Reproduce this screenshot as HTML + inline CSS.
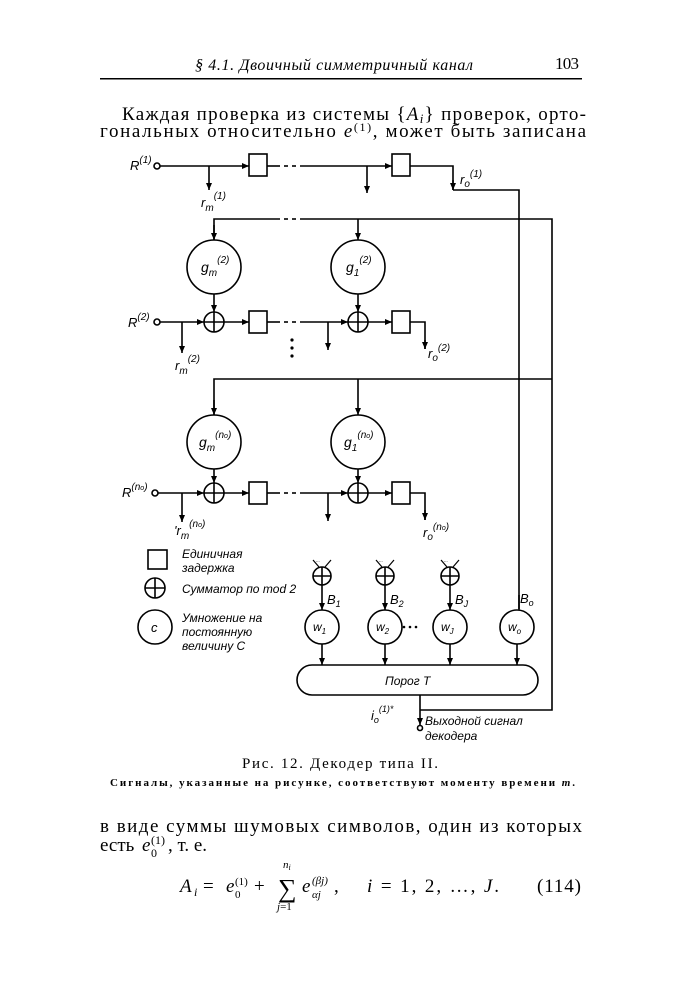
<!DOCTYPE html>
<html><head><meta charset="utf-8"><style>
html,body{margin:0;padding:0;background:#fff}
svg{display:block}
.s{font-family:"Liberation Serif",serif}
.i{font-family:"Liberation Sans",sans-serif;font-style:italic}
</style></head><body>
<svg width="683" height="1000" viewBox="0 0 683 1000" xmlns="http://www.w3.org/2000/svg">
<defs><marker id="a" markerWidth="8" markerHeight="8" refX="7" refY="4" orient="auto" markerUnits="userSpaceOnUse"><path d="M0,1 L7,4 L0,7 z" fill="#000"/></marker></defs>
<g fill="#000">
<text x="195" y="70" class="s" font-size="16" font-style="italic" textLength="278">§ 4.1. Двоичный симметричный канал</text>
<text x="555" y="69" class="s" font-size="17" textLength="24">103</text>
<rect x="100" y="78" width="482" height="1.5"/>
<text x="122" y="120" class="s" font-size="19" textLength="464">Каждая проверка из системы {<tspan font-style="italic">A<tspan font-size="13" dy="3">i</tspan></tspan><tspan dy="-3">} проверок, орто-</tspan></text>
<text x="100" y="137" class="s" font-size="19" textLength="486">гональных относительно <tspan font-style="italic">e</tspan><tspan font-size="12" dy="-6">(1)</tspan><tspan dy="6">, может быть записана</tspan></text>
</g>
<g stroke="#000" stroke-width="1.6" fill="none">
<circle cx="157" cy="166" r="3"/>
<line x1="160" y1="166" x2="249" y2="166" marker-end="url(#a)"/>
<rect x="249" y="154" width="18" height="22"/>
<line x1="267" y1="166" x2="280" y2="166"/>
<line x1="284" y1="166" x2="288" y2="166"/><line x1="292" y1="166" x2="296" y2="166"/>
<line x1="300" y1="166" x2="392" y2="166" marker-end="url(#a)"/>
<rect x="392" y="154" width="18" height="22"/>
<polyline points="410,166 453,166 453,190"/>
<line x1="453" y1="180" x2="453" y2="190" marker-end="url(#a)"/>
<polyline points="453,190 519,190 519,609"/>
<line x1="209" y1="166" x2="209" y2="190" marker-end="url(#a)"/>
<line x1="367" y1="166" x2="367" y2="193" marker-end="url(#a)"/>
<polyline points="214,240 214,219 280,219"/>
<line x1="284" y1="219" x2="288" y2="219"/><line x1="292" y1="219" x2="296" y2="219"/>
<polyline points="300,219 552,219 552,710 420,710"/>
<line x1="214" y1="225" x2="214" y2="240" marker-end="url(#a)"/>
<line x1="358" y1="219" x2="358" y2="240" marker-end="url(#a)"/>
<circle cx="214" cy="267" r="27"/><circle cx="358" cy="267" r="27"/>
<line x1="214" y1="294" x2="214" y2="312" marker-end="url(#a)"/>
<line x1="358" y1="294" x2="358" y2="312" marker-end="url(#a)"/>
<circle cx="157" cy="322" r="3"/>
<line x1="160" y1="322" x2="204" y2="322" marker-end="url(#a)"/>
<circle cx="214" cy="322" r="10"/><line x1="204" y1="322" x2="224" y2="322"/><line x1="214" y1="312" x2="214" y2="332"/>
<line x1="224" y1="322" x2="249" y2="322" marker-end="url(#a)"/>
<rect x="249" y="311" width="18" height="22"/>
<line x1="267" y1="322" x2="280" y2="322"/>
<line x1="284" y1="322" x2="288" y2="322"/><line x1="292" y1="322" x2="296" y2="322"/>
<line x1="300" y1="322" x2="348" y2="322" marker-end="url(#a)"/>
<circle cx="358" cy="322" r="10"/><line x1="348" y1="322" x2="368" y2="322"/><line x1="358" y1="312" x2="358" y2="332"/>
<line x1="368" y1="322" x2="392" y2="322" marker-end="url(#a)"/>
<rect x="392" y="311" width="18" height="22"/>
<polyline points="410,322 425,322 425,349" />
<line x1="425" y1="340" x2="425" y2="349" marker-end="url(#a)"/>
<line x1="182" y1="322" x2="182" y2="353" marker-end="url(#a)"/>
<line x1="328" y1="322" x2="328" y2="350" marker-end="url(#a)"/>
<polyline points="214,415 214,379 552,379"/>
<line x1="214" y1="400" x2="214" y2="415" marker-end="url(#a)"/>
<line x1="358" y1="379" x2="358" y2="415" marker-end="url(#a)"/>
<circle cx="214" cy="442" r="27"/><circle cx="358" cy="442" r="27"/>
<line x1="214" y1="469" x2="214" y2="483" marker-end="url(#a)"/>
<line x1="358" y1="469" x2="358" y2="483" marker-end="url(#a)"/>
<circle cx="155" cy="493" r="3"/>
<line x1="158" y1="493" x2="204" y2="493" marker-end="url(#a)"/>
<circle cx="214" cy="493" r="10"/><line x1="204" y1="493" x2="224" y2="493"/><line x1="214" y1="483" x2="214" y2="503"/>
<line x1="224" y1="493" x2="249" y2="493" marker-end="url(#a)"/>
<rect x="249" y="482" width="18" height="22"/>
<line x1="267" y1="493" x2="280" y2="493"/>
<line x1="284" y1="493" x2="288" y2="493"/><line x1="292" y1="493" x2="296" y2="493"/>
<line x1="300" y1="493" x2="348" y2="493" marker-end="url(#a)"/>
<circle cx="358" cy="493" r="10"/><line x1="348" y1="493" x2="368" y2="493"/><line x1="358" y1="483" x2="358" y2="503"/>
<line x1="368" y1="493" x2="392" y2="493" marker-end="url(#a)"/>
<rect x="392" y="482" width="18" height="22"/>
<polyline points="410,493 425,493 425,520"/>
<line x1="425" y1="510" x2="425" y2="520" marker-end="url(#a)"/>
<line x1="182" y1="493" x2="182" y2="522" marker-end="url(#a)"/>
<line x1="328" y1="493" x2="328" y2="521" marker-end="url(#a)"/>
<rect x="148" y="550" width="19" height="19"/>
<circle cx="155" cy="588" r="10"/><line x1="145" y1="588" x2="165" y2="588"/><line x1="155" y1="578" x2="155" y2="598"/>
<circle cx="155" cy="627" r="17"/>
<circle cx="322" cy="576" r="9"/><line x1="313" y1="576" x2="331" y2="576"/><line x1="322" y1="567" x2="322" y2="585"/>
<circle cx="385" cy="576" r="9"/><line x1="376" y1="576" x2="394" y2="576"/><line x1="385" y1="567" x2="385" y2="585"/>
<circle cx="450" cy="576" r="9"/><line x1="441" y1="576" x2="459" y2="576"/><line x1="450" y1="567" x2="450" y2="585"/>
<g stroke-width="1.2">
<line x1="313" y1="560" x2="319" y2="567"/><line x1="331" y1="560" x2="325" y2="567"/>
<line x1="376" y1="560" x2="382" y2="567"/><line x1="394" y1="560" x2="388" y2="567"/>
<line x1="441" y1="560" x2="447" y2="567"/><line x1="459" y1="560" x2="453" y2="567"/>
</g>
<line x1="322" y1="585" x2="322" y2="610" marker-end="url(#a)"/>
<line x1="385" y1="585" x2="385" y2="610" marker-end="url(#a)"/>
<line x1="450" y1="585" x2="450" y2="610" marker-end="url(#a)"/>
<line x1="519" y1="595" x2="519" y2="610"/>
<circle cx="322" cy="627" r="17"/><circle cx="385" cy="627" r="17"/><circle cx="450" cy="627" r="17"/><circle cx="517" cy="627" r="17"/>
<line x1="322" y1="644" x2="322" y2="665" marker-end="url(#a)"/>
<line x1="385" y1="644" x2="385" y2="665" marker-end="url(#a)"/>
<line x1="450" y1="644" x2="450" y2="665" marker-end="url(#a)"/>
<line x1="517" y1="644" x2="517" y2="665" marker-end="url(#a)"/>
<rect x="297" y="665" width="241" height="30" rx="15"/>
<line x1="420" y1="695" x2="420" y2="725" marker-end="url(#a)"/>
<circle cx="420" cy="728" r="2.5"/>
</g>
<g fill="#000" stroke="none">
<circle cx="292" cy="340" r="1.6"/><circle cx="292" cy="348" r="1.6"/><circle cx="292" cy="356" r="1.6"/>
<circle cx="404" cy="627" r="1.3"/><circle cx="410" cy="627" r="1.3"/><circle cx="416" cy="627" r="1.3"/>
<g font-size="5"><text x="316" y="562">...</text><text x="379" y="562">...</text><text x="444" y="562">...</text></g>
</g>
<g class="i" fill="#000" font-size="13">
<text x="130" y="170">R<tspan font-size="10" dy="-7">(1)</tspan></text>
<text x="460" y="184">r<tspan font-size="10" dy="3">o</tspan><tspan font-size="10" dy="-10">(1)</tspan></text>
<text x="201" y="207">r<tspan font-size="10" dy="4">m</tspan><tspan font-size="10" dy="-12">(1)</tspan></text>
<text x="128" y="327">R<tspan font-size="10" dy="-7">(2)</tspan></text>
<text x="175" y="370">r<tspan font-size="10" dy="4">m</tspan><tspan font-size="10" dy="-12">(2)</tspan></text>
<text x="428" y="358">r<tspan font-size="10" dy="3">o</tspan><tspan font-size="10" dy="-10">(2)</tspan></text>
<text x="122" y="497">R<tspan font-size="10" dy="-7">(n<tspan font-size="7">o</tspan>)</tspan></text>
<text x="174" y="535">'r<tspan font-size="10" dy="4">m</tspan><tspan font-size="10" dy="-12">(n<tspan font-size="7">o</tspan>)</tspan></text>
<text x="423" y="537">r<tspan font-size="10" dy="3">o</tspan><tspan font-size="10" dy="-10">(n<tspan font-size="7">o</tspan>)</tspan></text>
<text x="201" y="272" font-size="14">g<tspan font-size="10" dy="4">m</tspan><tspan font-size="10" dy="-13">(2)</tspan></text>
<text x="346" y="272" font-size="14">g<tspan font-size="10" dy="4">1</tspan><tspan font-size="10" dy="-13">(2)</tspan></text>
<text x="199" y="447" font-size="14">g<tspan font-size="10" dy="4">m</tspan><tspan font-size="10" dy="-13">(n<tspan font-size="7">o</tspan>)</tspan></text>
<text x="344" y="447" font-size="14">g<tspan font-size="10" dy="4">1</tspan><tspan font-size="10" dy="-13">(n<tspan font-size="7">o</tspan>)</tspan></text>
<text x="182" y="558" font-size="12">Единичная</text>
<text x="182" y="572" font-size="12">задержка</text>
<text x="182" y="593" font-size="12">Сумматор по mod 2</text>
<text x="182" y="622" font-size="12">Умножение на</text>
<text x="182" y="636" font-size="12">постоянную</text>
<text x="182" y="650" font-size="12">величину C</text>
<text x="151" y="632" font-size="13">c</text>
<text x="327" y="604">B<tspan font-size="9" dy="3">1</tspan></text>
<text x="390" y="604">B<tspan font-size="9" dy="3">2</tspan></text>
<text x="455" y="604">B<tspan font-size="9" dy="3">J</tspan></text>
<text x="520" y="603">B<tspan font-size="9" dy="3">o</tspan></text>
<text x="313" y="631" font-size="12">w<tspan font-size="8" dy="3">1</tspan></text>
<text x="376" y="631" font-size="12">w<tspan font-size="8" dy="3">2</tspan></text>
<text x="441" y="631" font-size="12">w<tspan font-size="8" dy="3">J</tspan></text>
<text x="508" y="631" font-size="12">w<tspan font-size="8" dy="3">o</tspan></text>
<text x="385" y="685" font-size="12">Порог T</text>
<text x="371" y="720">i<tspan font-size="9" dy="3">o</tspan><tspan font-size="9" dy="-11">(1)*</tspan></text>
<text x="425" y="725" font-size="12">Выходной сигнал</text>
<text x="425" y="740" font-size="12">декодера</text>
</g>
<g class="s" fill="#000">
<text x="242" y="768" font-size="15" textLength="196">Рис. 12. Декодер типа II.</text>
<text x="110" y="786" font-size="11" font-weight="bold" textLength="465">Сигналы, указанные на рисунке, соответствуют моменту времени <tspan font-style="italic">m</tspan>.</text>
<text x="100" y="832" font-size="19" textLength="482">в виде суммы шумовых символов, один из которых</text>
<text x="100" y="851" font-size="19">есть</text>
<text x="142" y="851" font-size="19" font-style="italic">e</text>
<text x="151" y="844" font-size="12">(1)</text>
<text x="151" y="857" font-size="12">0</text>
<text x="168" y="851" font-size="19">, т. е.</text>
<text x="180" y="892" font-size="19" font-style="italic">A</text>
<text x="194" y="896" font-size="12" font-style="italic">i</text>
<text x="203" y="892" font-size="19">=</text>
<text x="226" y="892" font-size="19" font-style="italic">e</text>
<text x="235" y="885" font-size="11">(1)</text>
<text x="235" y="898" font-size="11">0</text>
<text x="254" y="892" font-size="19">+</text>
<text x="278" y="897" font-size="26">∑</text>
<text x="283" y="868" font-size="11" font-style="italic">n<tspan font-size="8" dy="2">i</tspan></text>
<text x="277" y="910" font-size="11"><tspan font-style="italic">j</tspan>=1</text>
<text x="302" y="892" font-size="19" font-style="italic">e</text>
<text x="312" y="884" font-size="11" font-style="italic">(βj)</text>
<text x="312" y="898" font-size="11" font-style="italic">αj</text>
<text x="334" y="892" font-size="19">,</text>
<text x="367" y="892" font-size="19" textLength="132"><tspan font-style="italic">i</tspan> = 1,  2,  …,  <tspan font-style="italic">J</tspan>.</text>
<text x="537" y="892" font-size="19" textLength="44">(114)</text>
</g>
</svg>
</body></html>
